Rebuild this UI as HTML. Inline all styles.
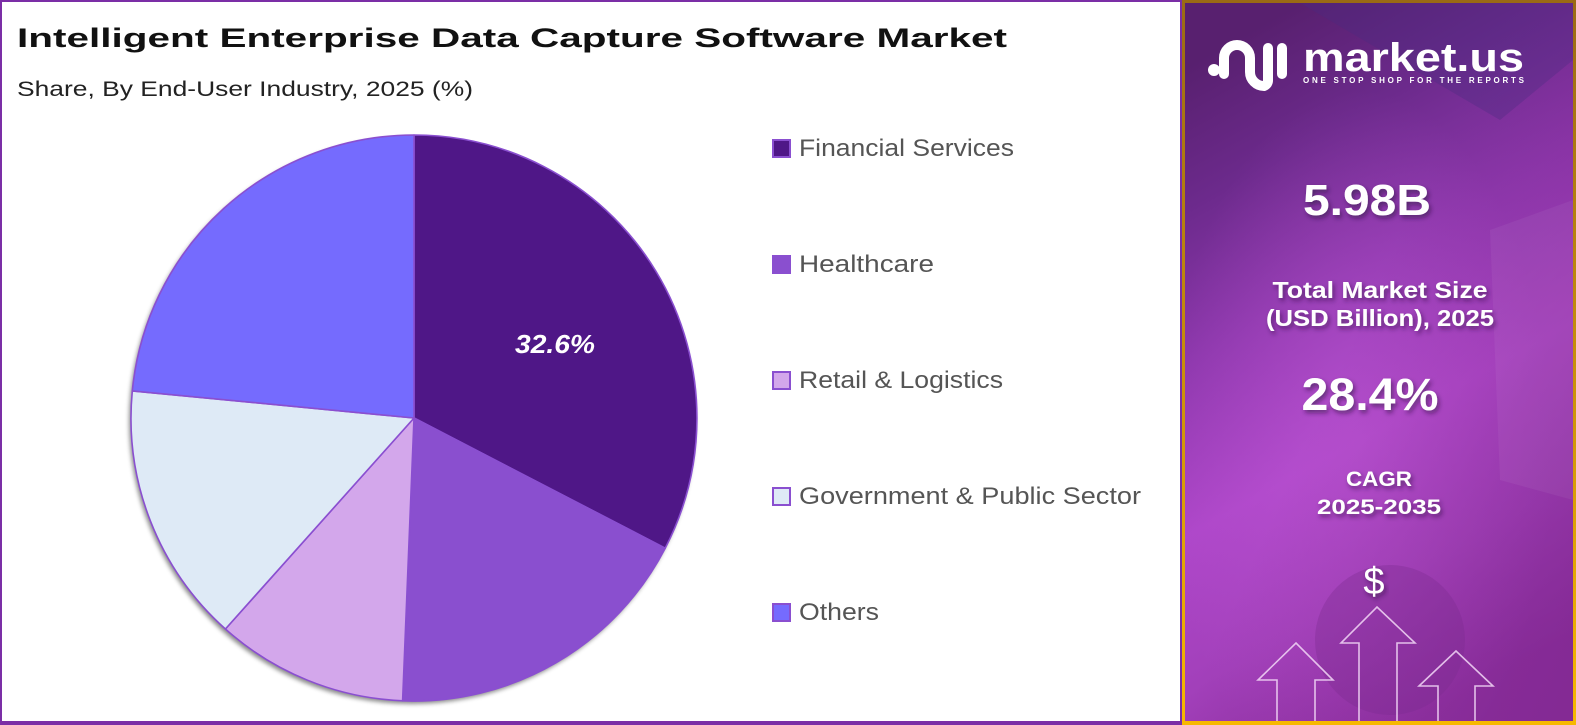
<!DOCTYPE html>
<html>
<head>
<meta charset="utf-8">
<style>
  html, body { margin:0; padding:0; background:#fff; }
  body { width:1576px; height:725px; overflow:hidden; }
  svg { display:block; }
  text { font-family: "Liberation Sans", "DejaVu Sans", sans-serif; }
</style>
</head>
<body>
<svg width="1576" height="725" viewBox="0 0 1576 725" xmlns="http://www.w3.org/2000/svg">
  <defs>
    <filter id="pieShadow" x="-10%" y="-10%" width="120%" height="120%">
      <feDropShadow dx="-2" dy="3" stdDeviation="2" flood-color="#000" flood-opacity="0.45"/>
    </filter>
    <filter id="txtShadow" x="-20%" y="-20%" width="140%" height="160%">
      <feDropShadow dx="2" dy="3" stdDeviation="2.5" flood-color="#2a0a3a" flood-opacity="0.55"/>
    </filter>
    <linearGradient id="goldBorder" x1="0" y1="0" x2="0" y2="1">
      <stop offset="0" stop-color="#9a6a14"/>
      <stop offset="0.5" stop-color="#c88f0a"/>
      <stop offset="1" stop-color="#f7b800"/>
    </linearGradient>
    <linearGradient id="panelBg" x1="0.3" y1="0" x2="0.6" y2="1">
      <stop offset="0" stop-color="#58206f"/>
      <stop offset="0.18" stop-color="#6c2a8c"/>
      <stop offset="0.38" stop-color="#8e38ad"/>
      <stop offset="0.6" stop-color="#ae47c9"/>
      <stop offset="0.8" stop-color="#a240ba"/>
      <stop offset="1" stop-color="#8f30a2"/>
    </linearGradient>
    <radialGradient id="glow" cx="0.45" cy="0.62" r="0.5">
      <stop offset="0" stop-color="#c25ad8" stop-opacity="0.45"/>
      <stop offset="1" stop-color="#c25ad8" stop-opacity="0"/>
    </radialGradient>
    <linearGradient id="darkCorner" x1="1" y1="1" x2="0.4" y2="0.5">
      <stop offset="0" stop-color="#7a2488" stop-opacity="0.55"/>
      <stop offset="1" stop-color="#7a2488" stop-opacity="0"/>
    </linearGradient>
  </defs>

  <!-- Left panel -->
  <rect x="1" y="1" width="1180" height="721" fill="#ffffff" stroke="#7b2ea6" stroke-width="2"/>
  <rect x="0" y="721" width="1182" height="4" fill="#7b2ea6"/>

  <text x="17" y="47" font-size="27" font-weight="bold" fill="#111" textLength="990" lengthAdjust="spacingAndGlyphs">Intelligent Enterprise Data Capture Software Market</text>
  <text x="17" y="96" font-size="21" fill="#222" textLength="456" lengthAdjust="spacingAndGlyphs">Share, By End-User Industry, 2025 (%)</text>

  <!-- Pie -->
  <circle cx="414" cy="418" r="283" fill="#8a4fd0" filter="url(#pieShadow)"/>
  <g stroke="#8a4fd0" stroke-width="1.6" stroke-linejoin="round">
    <path d="M414,418 L414,135 A283,283 0 0 1 665.2,548.2 Z" fill="#4f1787"/>
    <path d="M414,418 L665.2,548.2 A283,283 0 0 1 402.6,700.8 Z" fill="#8a4fcf"/>
    <path d="M414,418 L402.6,700.8 A283,283 0 0 1 225.4,629.0 Z" fill="#d3a7eb"/>
    <path d="M414,418 L225.4,629.0 A283,283 0 0 1 132.3,390.9 Z" fill="#deeaf6"/>
    <path d="M414,418 L132.3,390.9 A283,283 0 0 1 414,135 Z" fill="#756bfe"/>
  </g>
  <text x="555" y="353" font-size="26" font-weight="bold" font-style="italic" fill="#ffffff" text-anchor="middle" textLength="80" lengthAdjust="spacingAndGlyphs">32.6%</text>

  <!-- Legend -->
  <g stroke="#8a4fd0" stroke-width="2">
    <rect x="773" y="140" width="17" height="17" fill="#4f1787"/>
    <rect x="773" y="256" width="17" height="17" fill="#8a4fcf"/>
    <rect x="773" y="372" width="17" height="17" fill="#d3a7eb"/>
    <rect x="773" y="488" width="17" height="17" fill="#deeaf6"/>
    <rect x="773" y="604" width="17" height="17" fill="#756bfe"/>
  </g>
  <g font-size="24" fill="#555555">
    <text x="799" y="156" textLength="215" lengthAdjust="spacingAndGlyphs">Financial Services</text>
    <text x="799" y="272" textLength="135" lengthAdjust="spacingAndGlyphs">Healthcare</text>
    <text x="799" y="388" textLength="204" lengthAdjust="spacingAndGlyphs">Retail &amp; Logistics</text>
    <text x="799" y="504" textLength="342" lengthAdjust="spacingAndGlyphs">Government &amp; Public Sector</text>
    <text x="799" y="620" textLength="80" lengthAdjust="spacingAndGlyphs">Others</text>
  </g>

  <!-- Right panel -->
  <rect x="1182" y="0" width="394" height="725" fill="url(#goldBorder)"/>
  <rect x="1185" y="3" width="388" height="718" fill="url(#panelBg)"/>
  <rect x="1185" y="3" width="388" height="718" fill="url(#glow)"/>
  <rect x="1185" y="3" width="388" height="718" fill="url(#darkCorner)"/>
  <!-- faint background shapes -->
  <path d="M1300,3 L1573,3 L1573,60 L1500,120 Z" fill="#4a2a80" opacity="0.35"/>
  <path d="M1490,230 L1573,200 L1573,500 L1500,480 Z" fill="#ffffff" opacity="0.05"/>
  <circle cx="1390" cy="640" r="75" fill="#7a2a90" opacity="0.35"/>

  <!-- Logo -->
  <g fill="none" stroke="#ffffff" stroke-linecap="round" stroke-width="10">
    <path d="M1224,74 V58 A13,13 0 0 1 1250,58 V72 A14,14 0 0 0 1264,86 A6,6 0 0 0 1268,80 V48"/>
    <path d="M1282,48 V74"/>
  </g>
  <circle cx="1214" cy="70" r="6" fill="#ffffff"/>
  <text x="1303" y="71" font-size="40" font-weight="bold" fill="#ffffff" textLength="221" lengthAdjust="spacingAndGlyphs">market.us</text>
  <text x="1303" y="83" font-size="8" font-weight="bold" fill="#ffffff" textLength="221" lengthAdjust="spacing">ONE STOP SHOP FOR THE REPORTS</text>

  <!-- KPIs -->
  <g fill="#ffffff" font-weight="bold" text-anchor="middle" filter="url(#txtShadow)">
    <text x="1367" y="215" font-size="44" textLength="128" lengthAdjust="spacingAndGlyphs">5.98B</text>
    <text x="1380" y="298" font-size="23" textLength="215" lengthAdjust="spacingAndGlyphs">Total Market Size</text>
    <text x="1380" y="326" font-size="23" textLength="228" lengthAdjust="spacingAndGlyphs">(USD Billion), 2025</text>
    <text x="1370" y="410" font-size="45" textLength="137" lengthAdjust="spacingAndGlyphs">28.4%</text>
    <text x="1379" y="486" font-size="21" textLength="66" lengthAdjust="spacingAndGlyphs">CAGR</text>
    <text x="1379" y="514" font-size="21" textLength="124" lengthAdjust="spacingAndGlyphs">2025-2035</text>
  </g>
  <text x="1374" y="594" font-size="38" fill="#ffffff" text-anchor="middle" filter="url(#txtShadow)">$</text>

  <!-- Arrows -->
  <g fill="none" stroke="#f3d9f7" stroke-width="1.6" opacity="0.85">
    <path d="M1277,725 V680 H1258 L1296,643 L1333,680 H1315 V725"/>
    <path d="M1359,725 V643 H1341 L1377,607 L1415,643 H1397 V725"/>
    <path d="M1438,725 V686 H1419 L1456,651 L1493,686 H1475 V725"/>
  </g>
  <!-- restore bottom gold border over arrows -->
  <rect x="1182" y="721" width="394" height="4" fill="#f7b800"/>
</svg>
</body>
</html>
